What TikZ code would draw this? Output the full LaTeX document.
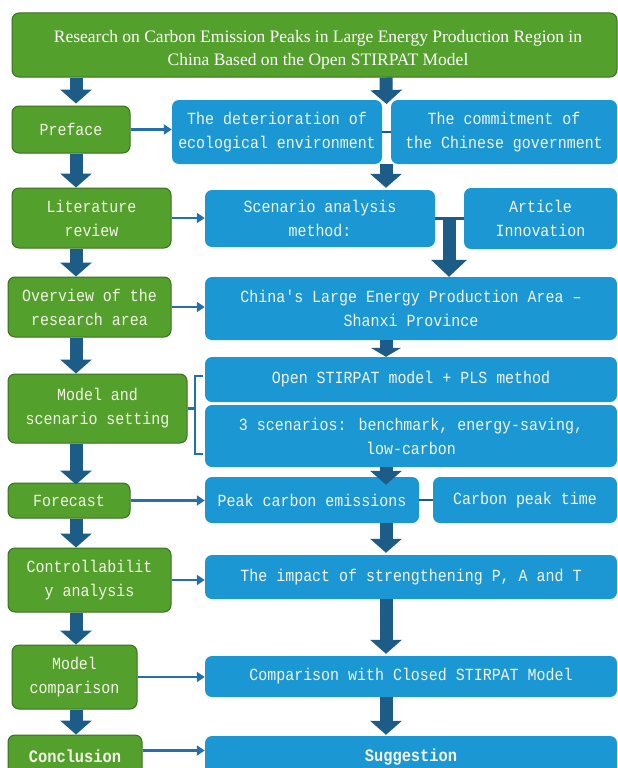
\documentclass[tikz,border=0pt]{standalone}
\usepackage{fontspec}
\setmainfont{Liberation Serif}
\newfontfamily\monofont[FakeStretch=0.88]{Liberation Mono}
\usetikzlibrary{arrows.meta,calc}
\definecolor{gfill}{RGB}{84,160,44}
\definecolor{gline}{RGB}{58,112,34}
\definecolor{bfill}{RGB}{27,152,212}
\definecolor{darr}{RGB}{30,92,136}
\definecolor{tarr}{RGB}{36,112,172}
\definecolor{txt}{RGB}{244,244,232}
\begin{document}
\begin{tikzpicture}[x=1pt,y=-1pt,
  gbox/.style={draw=gline, line width=1pt, fill=gfill, rounded corners=7pt, inner sep=0pt, text=txt,
    font=\monofont\fontsize{17}{24}\selectfont, align=center},
  bbox/.style={fill=bfill, rounded corners=7pt, inner sep=0pt, text=txt,
    font=\monofont\fontsize{17}{24}\selectfont, align=center},
  titletext/.style={inner sep=0pt, text=white, font=\fontsize{17.5}{23}\selectfont, align=center},
  boldtext/.style={font=\monofont\bfseries\fontsize{17.5}{24}\selectfont},
  bigarrow/.style={draw=darr, line width=13pt, -{Triangle[width=31pt,length=14pt]}},
  feed/.style={draw=tarr, line width=2.6pt, -{Triangle[width=10pt,length=8pt]}},
  link/.style={draw=darr, line width=2.5pt},
  brk/.style={draw=tarr, line width=2.4pt}]
\useasboundingbox (0,0) rectangle (618,768);
\clip (0,0) rectangle (618,768);
\fill[white] (0,0) rectangle (618,768);
\coordinate (lx) at (76,0);
\coordinate (mx) at (386,0);
\coordinate (bx) at (195,0);

% title
\node[gbox, minimum width=605pt, minimum height=64pt] (title) at (314.5,45) {};
\node[titletext] (titlet) at (318,50) {Research on Carbon Emission Peaks in Large Energy Production Region in\\China Based on the Open STIRPAT Model};

% left column
\node[gbox, minimum width=118pt, minimum height=47pt] (preface) at (71,129.5) {Preface};
\node[gbox, minimum width=159pt, minimum height=60pt] (lit) at (91.5,218) {Literature\\review};
\node[gbox, minimum width=163pt, minimum height=60pt] (overview) at (89.5,307) {Overview of the\\research area};
\node[gbox, minimum width=179pt, minimum height=69pt] (model) at (97.5,408.5) {Model and\\scenario setting};
\node[gbox, minimum width=122pt, minimum height=35pt] (forecast) at (69,500.5) {Forecast};
\node[gbox, minimum width=163pt, minimum height=64pt] (control) at (89.5,580) {Controllabilit\\y analysis};
\node[gbox, minimum width=125pt, minimum height=64pt] (modelcmp) at (74.5,677) {Model\\comparison};
\node[gbox, boldtext, minimum width=134pt, minimum height=43pt] (conclusion) at (75,756.5) {Conclusion};

% right column
\node[bbox, minimum width=210pt, minimum height=64pt] (box1) at (277,132) {The deterioration of\\ecological environment};
\node[bbox, minimum width=226pt, minimum height=64pt] (box2) at (504,132) {The commitment of\\the Chinese government};
\node[bbox, minimum width=230pt, minimum height=57pt] (scenario) at (320,218.5) {Scenario analysis\\method:};
\node[bbox, minimum width=153pt, minimum height=61pt] (article) at (540.5,218.5) {Article\\Innovation};
\node[bbox, minimum width=412pt, minimum height=63pt] (china) at (411,308.5) {China's Large Energy Production Area –\\Shanxi Province};
\node[bbox, minimum width=412pt, minimum height=45pt] (open) at (411,379.5) {Open STIRPAT model + PLS method};
\node[bbox, minimum width=412pt, minimum height=62pt] (scen3) at (411,436) {3 scenarios: benchmark, energy-saving,\\low-carbon};
\node[bbox, minimum width=214pt, minimum height=46pt] (peak) at (312,500) {Peak carbon emissions};
\node[bbox, minimum width=184pt, minimum height=46pt] (cpt) at (525,500) {Carbon peak time};
\node[bbox, minimum width=412pt, minimum height=44pt] (impact) at (411,577) {The impact of strengthening P, A and T};
\node[bbox, minimum width=412pt, minimum height=41pt] (compare) at (411,676.5) {Comparison with Closed STIRPAT Model};
\node[bbox, boldtext, minimum width=412pt, minimum height=42pt] (suggest) at (411,757) {Suggestion};

% left fat arrows
\draw[bigarrow] (title.south -| lx) -- ($(preface.north -| lx)+(0,-2)$);
\draw[bigarrow] (preface.south -| lx) -- (lit.north -| lx);
\draw[bigarrow] (lit.south -| lx) -- (overview.north -| lx);
\draw[bigarrow] (overview.south -| lx) -- (model.north -| lx);
\draw[bigarrow] (model.south -| lx) -- ($(forecast.north -| lx)+(0,2)$);
\draw[bigarrow] (forecast.south -| lx) -- (control.north -| lx);
\draw[bigarrow] (control.south -| lx) -- (modelcmp.north -| lx);
\draw[bigarrow] (modelcmp.south -| lx) -- (conclusion.north -| lx);

% links between side boxes
\draw[link] (box1.east) -- (box2.west);
\draw[link] (scenario.east) -- (article.west);
\draw[link] (peak.east) -- (cpt.west);

% middle fat arrows
\coordinate (gap) at (386.5,104);
\draw[bigarrow] (title.south -| mx) -- (gap);
\draw[bigarrow] (box1.south -| mx) -- ($(scenario.north -| mx)+(0,-2)$);
\coordinate (tj) at (449,218);
\draw[bigarrow, -{Triangle[width=35pt,length=17pt]}] (tj) -- (china.north -| tj);
\draw[bigarrow, -{Triangle[width=30pt,length=9pt]}] (china.south -| mx) -- (open.north -| mx);
\draw[bigarrow] (scen3.south -| mx) -- ($(peak.north -| mx)+(0,8)$);
\draw[bigarrow] (peak.south -| mx) -- ($(impact.north -| mx)+(0,-2)$);
\draw[bigarrow] (impact.south -| mx) -- ($(compare.north -| mx)+(0,-2)$);
\draw[bigarrow] (compare.south -| mx) -- ($(suggest.north -| mx)+(0,-1)$);

% thin feed arrows
\draw[feed] (preface.east) -- (preface.east -| box1.west);
\draw[feed] (lit.east) -- (lit.east -| scenario.west);
\draw[feed] (overview.east) -- (overview.east -| china.west);
\draw[feed] (forecast.east) -- (forecast.east -| peak.west);
\draw[feed] (control.east) -- (control.east -| impact.west);
\draw[feed] (modelcmp.east) -- (modelcmp.east -| compare.west);
\draw[feed] ([yshift=6pt]conclusion.east) -- ([yshift=6pt]conclusion.east -| suggest.west);

% bracket
\coordinate (bt) at (203,376);
\coordinate (bb) at (203,454);
\draw[brk] (bt) -- (bt -| bx) -- (bb -| bx) -- (bb);
\draw[brk] (model.east) -- (model.east -| bx);
\end{tikzpicture}
\end{document}
